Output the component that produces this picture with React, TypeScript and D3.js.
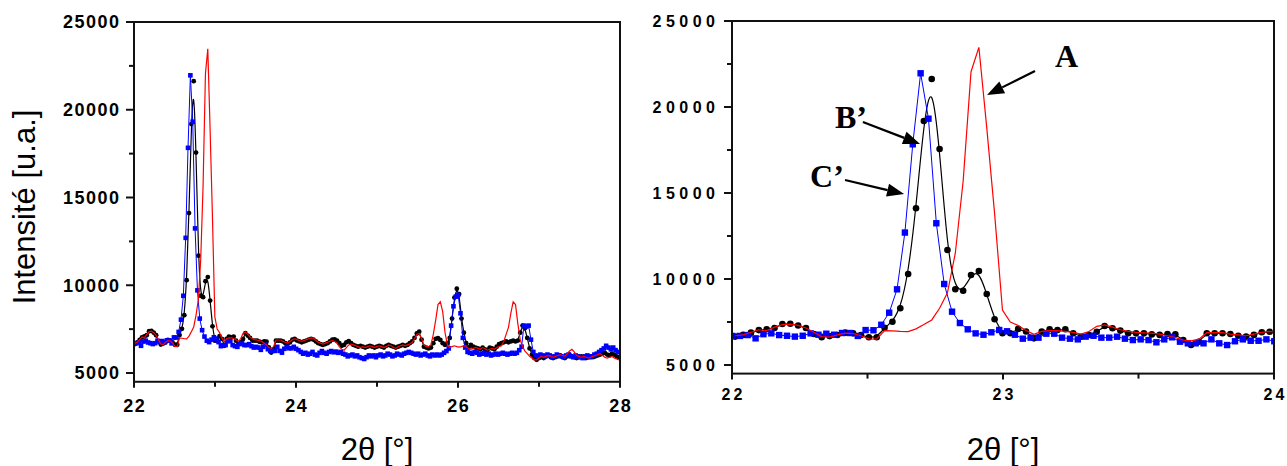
import React from "react";
import * as d3 from "d3";

// ---------------- DATA ----------------
const STEP = 0.029;
const BLUE_START = 22.0;
const BLACK_START = 22.012; // black and red share this grid

const blueCounts = [
  6690, 6690, 6740, 6550, 6790, 6840, 6740, 6700, 6650, 6700,
  6840, 6760, 6820, 6760, 6860, 6860, 6690, 7030, 7020, 7340,
  8040, 9400, 12700, 17830, 21960, 19320, 13240, 9710, 8100, 7440,
  7075, 6840, 6760, 6900, 7035, 6960, 6760, 6530, 6590, 6590,
  6820, 6820, 6590, 6530, 6490, 6650, 6700, 6590, 6590, 6645,
  6530, 6450, 6490, 6450, 6320, 6490, 6610, 6355, 6260, 6260,
  6260, 6490, 6260, 6160, 6380, 6490, 6410, 6410, 6490, 6380,
  6300, 6200, 6100, 6150, 6050, 6100, 6200, 6050, 6000, 6150,
  6250, 6150, 6100, 6200, 6250, 6180, 6220, 6150, 6200, 6100,
  6050, 5950, 6000, 6050, 5950, 6000, 5900, 5850, 5800, 5900,
  6000, 5950, 6000, 5900, 6000, 6050, 5950, 6000, 6100, 6050,
  5950, 6000, 6100, 6050, 6000, 6100, 6150, 6200, 6150, 6100,
  6050, 6100, 6000, 6050, 6100, 6000, 5950, 6050, 6000, 6050,
  6000, 6050, 6150, 6250, 6400, 7700, 8800, 9350, 9450, 8400,
  7000, 6450, 6200, 6150, 6100, 6200, 6150, 6050, 6100, 6150,
  6050, 6100, 6000, 6050, 6100, 6050, 6100, 6150, 6100, 6050,
  6100, 6150, 6100, 6150, 6300, 6500, 7700, 7650, 7700, 6900,
  6200, 6000, 5950, 6050, 6000, 5950, 6050, 6000, 5900, 5950,
  6050, 6000, 5950, 5900, 6000, 6050, 5950, 5900, 6000, 5950,
  5900, 5850, 5950, 6000, 5900, 5950, 6050, 6100, 6200, 6300,
  6400, 6550, 6450, 6350, 6450, 6300, 6200,
];

const blackCounts = [
  6650, 6750, 6880, 7030, 7080, 7150, 7380, 7400, 7300, 7150,
  6800, 6620, 6680, 6740, 6880, 6840, 6740, 6610, 6610, 7160,
  7517, 8297, 10291, 14110, 19186, 21628, 17558, 11686, 9401, 9320,
  10233, 10465, 9128, 7657, 6843, 6850, 7100, 6950, 6550, 6940,
  7075, 7035, 7075, 6843, 6645, 6744, 6936, 7268, 7133, 7000,
  6850, 6840, 6840, 6780, 6750, 6800, 6785, 6454, 6163, 6355,
  6843, 6843, 6843, 6800, 6700, 6650, 6750, 6900, 6936, 6850,
  6800, 6750, 6800, 6850, 6900, 6950, 6900, 6800, 6700, 6650,
  6600, 6650, 6700, 6800, 6900, 6920, 6850, 6700, 6550, 6600,
  6750, 6820, 6700, 6600, 6550, 6500, 6550, 6500, 6450, 6500,
  6550, 6500, 6450, 6500, 6550, 6500, 6450, 6550, 6600, 6550,
  6500, 6450, 6500, 6550, 6600, 6550, 6600, 6700, 6800, 7000,
  7250, 7350, 6900, 6500, 6450, 6400, 6450, 6700, 6950, 6980,
  6880, 6700, 6600, 6700, 7000, 8100, 9300, 9800, 9500, 8100,
  7300, 6700, 6450, 6600, 6500, 6450, 6400, 6350, 6450, 6350,
  6300, 6450, 6400, 6350, 6500, 6650, 6700, 6750, 6800, 6750,
  6800, 6850, 6800, 6850, 7300, 7700, 7550, 7000, 6400, 6050,
  5850, 5750, 5850, 5900, 5850, 5950, 6000, 5900, 5850, 5900,
  5950, 6000, 5900, 5850, 5950, 6050, 5950, 5900, 5850, 5900,
  5950, 5900, 5850, 5900, 5950, 5900, 5950, 6000, 6050, 6100,
  6150, 6050, 6000, 6100, 6050, 5950, 5900,
];

const redCounts = [
  6700, 6750, 6900, 7050, 7000, 7200, 7350, 7380, 7300, 7150,
  6900, 6650, 6620, 6750, 6850, 6830, 6700, 6520, 6500, 7000,
  6980, 6950, 6940, 7100, 7350, 7620, 8300, 9200, 11500, 15700,
  22050, 23470, 18800, 13800, 8200, 7500, 7300, 7000, 6780, 6950,
  7000, 7000, 6960, 6900, 6800, 6950, 7250, 7330, 7200, 7050,
  6950, 6900, 6870, 6850, 6800, 6700, 6600, 6450, 6400, 6500,
  6880, 6880, 6880, 6800, 6750, 6700, 6800, 6900, 6950, 6900,
  6850, 6800, 6850, 6900, 6950, 7000, 6980, 6850, 6750, 6700,
  6650, 6700, 6750, 6800, 6850, 6800, 6700, 6500, 6350, 6300,
  6450, 6600, 6650, 6600, 6550, 6500, 6450, 6500, 6450, 6500,
  6550, 6500, 6450, 6500, 6550, 6500, 6450, 6500, 6600, 6550,
  6450, 6400, 6500, 6550, 6600, 6550, 6600, 6650, 6750, 6950,
  7200, 7250, 6950, 6600, 6500, 6500, 6600, 7200, 8000, 8900,
  9060, 8500, 7300, 6600, 6450, 6500, 6550, 6500, 6480, 6500,
  6550, 6500, 6400, 6350, 6400, 6450, 6400, 6350, 6450, 6400,
  6300, 6350, 6400, 6350, 6450, 6500, 6550, 6800, 7200, 7600,
  8400, 9060, 8900, 7800, 6900, 6500, 6250, 6100, 5950, 5850,
  5750, 5750, 5850, 5950, 5900, 5950, 6000, 5950, 5900, 5950,
  6000, 6050, 6000, 5950, 6100, 6250, 6350, 6200, 6000, 5950,
  5900, 5950, 5900, 5850, 5900, 5950, 6000, 6050, 6100, 6000,
  5900, 5850, 5900, 5950, 5850, 5800, 5750,
];

const yMajorTicks = [5000, 10000, 15000, 20000, 25000];
const yMinorTicks = [7500, 12500, 17500, 22500];
const leftXMajor = [22, 24, 26, 28];
const leftXMinor = [23, 25, 27];
const rightXMajor = [22, 23, 24];
const rightXMinor = [22.5, 23.5];

const yAxisTitle = "Intensité [u.a.]";
const xAxisTitle = "2θ [°]";

// annotations (data coordinates of the right panel)
const annotations = [
  { label: "B’", tx: 22.38, ty: 18779, from: [22.483, 19128], to: [22.694, 17849] },
  { label: "C’", tx: 22.288, ty: 15366, from: [22.417, 15756], to: [22.635, 14942] },
  { label: "A", tx: 23.192, ty: 22343, from: [23.118, 22093], to: [22.941, 20698] },
];

type Pt = { x: number; y: number };
const blueData: Pt[] = blueCounts.map((v, i) => ({ x: BLUE_START + i * STEP, y: v }));
const blackData: Pt[] = blackCounts.map((v, i) => ({ x: BLACK_START + i * STEP, y: v }));
const redData: Pt[] = redCounts.map((v, i) => ({ x: BLACK_START + i * STEP, y: v }));

const SANS = "'Liberation Sans', Arial, Helvetica, sans-serif";
const SERIF = "'Liberation Serif', 'Times New Roman', serif";

type PanelCfg = {
  id: string;
  xDomain: [number, number];
  left: number;
  right: number;
  y5000: number;
  y25000: number;
  xMajor: number[];
  xMinor: number[];
  tickFont: number;
  tickLS: number;
  xTickLS: number;
  yLabelGap: number;
  xLabelBaseline: number;
  r: number;
  sq: number;
  annotate: boolean;
};

const panels: PanelCfg[] = [
  {
    id: "L", xDomain: [22, 28], left: 134, right: 620, y5000: 373, y25000: 22,
    xMajor: leftXMajor, xMinor: leftXMinor, tickFont: 18, tickLS: 1.5, xTickLS: 1.5, yLabelGap: 15,
    xLabelBaseline: 411.5, r: 2.4, sq: 4.6, annotate: false,
  },
  {
    id: "R", xDomain: [22, 24], left: 732, right: 1274, y5000: 365, y25000: 21,
    xMajor: rightXMajor, xMinor: rightXMinor, tickFont: 16, tickLS: 4.5, xTickLS: 3, yLabelGap: 17,
    xLabelBaseline: 400, r: 3.3, sq: 6.4, annotate: true,
  },
];

function Panel({ p }: { p: PanelCfg }) {
  const x = d3.scaleLinear().domain(p.xDomain).range([p.left, p.right]);
  const y = d3.scaleLinear().domain([5000, 25000]).range([p.y5000, p.y25000]);
  const top = y(25000);
  const bottom = y(4500);
  const clipId = "clip" + p.id;

  const inX = (d: Pt) => d.x >= p.xDomain[0] - 0.02 && d.x <= p.xDomain[1] + 0.02;
  const blk = blackData.filter(inX);
  const blu = blueData.filter(inX);
  const red = redData.filter(inX);

  const lineBasis = d3.line<Pt>().x((d) => x(d.x)).y((d) => y(d.y)).curve(d3.curveBasis);
  const lineLin = d3.line<Pt>().x((d) => x(d.x)).y((d) => y(d.y));

  return (
    <g>
      <defs>
        <clipPath id={clipId}>
          <rect x={p.left} y={top} width={p.right - p.left} height={bottom - top} />
        </clipPath>
      </defs>
      <g clipPath={`url(#${clipId})`}>
        <path d={lineBasis(blk) || ""} fill="none" stroke="#000" strokeWidth={1.2} />
        {blk.map((d, i) => (
          <circle key={"b" + i} cx={x(d.x)} cy={y(d.y)} r={p.r} fill="#000" />
        ))}
        <path d={lineLin(blu) || ""} fill="none" stroke="#0000ff" strokeWidth={1} />
        {blu.map((d, i) => (
          <rect key={"q" + i} x={x(d.x) - p.sq / 2} y={y(d.y) - p.sq / 2} width={p.sq} height={p.sq} fill="#0000ff" />
        ))}
        <path d={lineLin(red) || ""} fill="none" stroke="#ff0000" strokeWidth={1.2} />
      </g>
      {/* frame */}
      <rect x={p.left} y={top} width={p.right - p.left} height={bottom - top} fill="none" stroke="#111" strokeWidth={2} />
      {/* y ticks */}
      {yMajorTicks.map((t) => (
        <g key={"ym" + t}>
          <line x1={p.left - 8} x2={p.left} y1={y(t)} y2={y(t)} stroke="#111" strokeWidth={2} />
          <text
            x={p.left - p.yLabelGap + p.tickLS}
            y={y(t)}
            dy="0.36em"
            textAnchor="end"
            fontFamily={SANS}
            fontWeight="bold"
            fontSize={p.tickFont}
            letterSpacing={p.tickLS}
            fill="#000"
          >
            {t}
          </text>
        </g>
      ))}
      {yMinorTicks.map((t) => (
        <line key={"yn" + t} x1={p.left - 5} x2={p.left} y1={y(t)} y2={y(t)} stroke="#111" strokeWidth={2} />
      ))}
      {/* x ticks */}
      {p.xMajor.map((t) => (
        <g key={"xm" + t}>
          <line x1={x(t)} x2={x(t)} y1={bottom} y2={bottom + 6} stroke="#111" strokeWidth={2} />
          <text
            x={x(t) + p.xTickLS / 2}
            y={p.xLabelBaseline}
            textAnchor="middle"
            fontFamily={SANS}
            fontWeight="bold"
            fontSize={p.tickFont}
            letterSpacing={p.xTickLS}
            fill="#000"
          >
            {t}
          </text>
        </g>
      ))}
      {p.xMinor.map((t) => (
        <line key={"xn" + t} x1={x(t)} x2={x(t)} y1={bottom} y2={bottom + 5} stroke="#111" strokeWidth={2} />
      ))}
      {/* x title */}
      <text
        x={(p.left + p.right) / 2}
        y={460}
        textAnchor="middle"
        fontFamily={SANS}
        fontSize={31}
        fill="#000"
      >
        {xAxisTitle}
      </text>
      {p.annotate &&
        annotations.map((a) => {
          const x1 = x(a.from[0]);
          const y1 = y(a.from[1]);
          const x2 = x(a.to[0]);
          const y2 = y(a.to[1]);
          const ang = Math.atan2(y2 - y1, x2 - x1);
          const L = 17;
          const W = 6.5;
          const bx = x2 - L * Math.cos(ang);
          const by = y2 - L * Math.sin(ang);
          const nx = -Math.sin(ang) * W;
          const ny = Math.cos(ang) * W;
          return (
            <g key={a.label}>
              <line x1={x1} y1={y1} x2={bx} y2={by} stroke="#000" strokeWidth={2.2} />
              <polygon points={`${x2},${y2} ${bx + nx},${by + ny} ${bx - nx},${by - ny}`} fill="#000" />
              <text x={x(a.tx)} y={y(a.ty)} fontFamily={SERIF} fontWeight="bold" fontSize={32} fill="#000">
                {a.label}
              </text>
            </g>
          );
        })}
    </g>
  );
}

export default function App() {
  return (
    <svg width={1287} height={466} style={{ display: "block", position: "absolute", left: 0, top: 0, background: "#fff" }}>
      <rect x={0} y={0} width={1287} height={466} fill="#fff" />
      <text
        transform="translate(35,207) rotate(-90)"
        textAnchor="middle"
        fontFamily={SANS}
        fontSize={31}
        fill="#000"
      >
        {yAxisTitle}
      </text>
      {panels.map((p) => (
        <Panel key={p.id} p={p} />
      ))}
    </svg>
  );
}
